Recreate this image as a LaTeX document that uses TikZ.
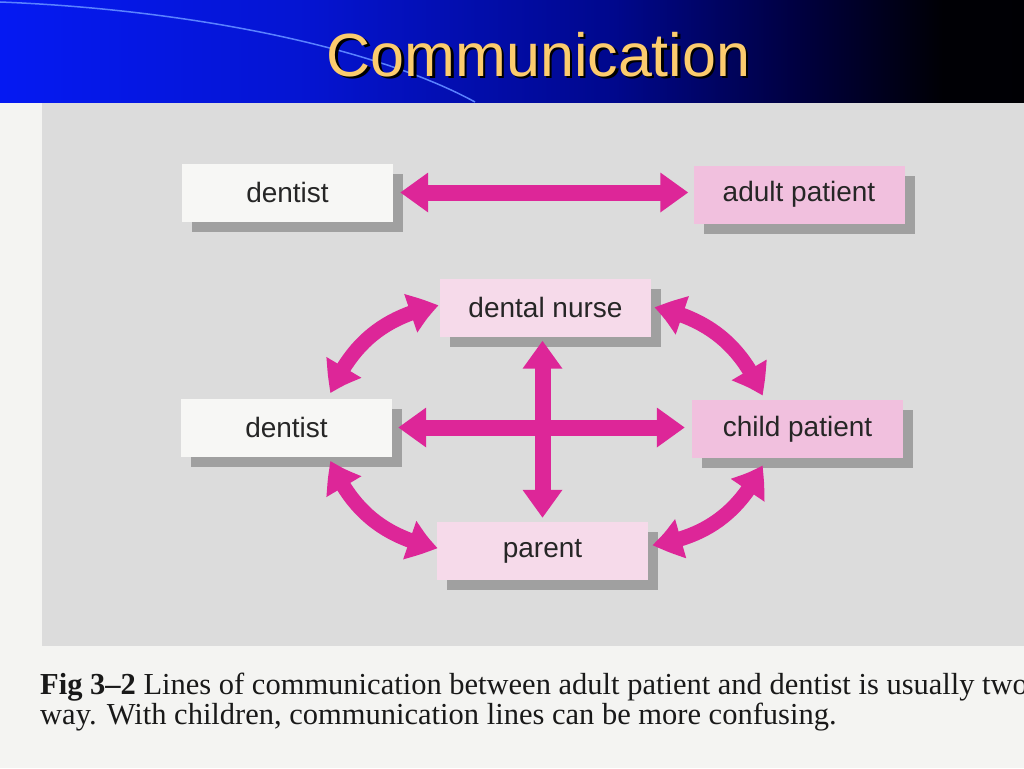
\documentclass[tikz,border=0pt]{standalone}
\usepackage{fontspec}
\setmainfont{Liberation Sans}
\newfontfamily\capfont{Liberation Serif}
\usetikzlibrary{arrows.meta,bending,shadows}
\definecolor{mag}{RGB}{221,38,152}
\definecolor{panel}{RGB}{220,220,220}
\definecolor{page}{RGB}{244,244,242}
\definecolor{boxwhite}{RGB}{247,247,245}
\definecolor{pinkA}{RGB}{241,192,222}
\definecolor{pinkB}{RGB}{246,218,234}
\definecolor{shadowgray}{RGB}{160,160,160}
\definecolor{titleyellow}{RGB}{252,204,110}
\definecolor{arcblue}{RGB}{90,130,255}
\pgfdeclarehorizontalshading{banner}{100bp}{rgb(0bp)=(0.02,0.1,0.95); rgb(25bp)=(0.02,0.1,0.95); rgb(40bp)=(0.02,0.08,0.82); rgb(55bp)=(0,0.03,0.55); rgb(64bp)=(0,0,0.25); rgb(71bp)=(0,0,0.02); rgb(100bp)=(0,0,0)}
\begin{document}
\begin{tikzpicture}[x=1pt,y=1pt,
  box/.style={minimum width=211pt, minimum height=58pt, inner sep=0pt,
    font=\fontsize{28}{32}\selectfont, text=black!85,
    drop shadow={shadow xshift=10pt, shadow yshift=-10pt, fill=shadowgray, opacity=1}},
  whitebox/.style={box, fill=boxwhite},
  pinkbox/.style={box, fill=pinkA},
  lightbox/.style={box, fill=pinkB},
  dbl/.style={draw=mag, line width=16pt, {Triangle[length=28pt,width=38pt]}-{Triangle[length=28pt,width=38pt]}},
  curv/.style={draw=mag, line width=15pt, {Triangle[length=30pt,width=38pt,bend]}-{Triangle[length=30pt,width=38pt,bend]}},
  titlefont/.style={font=\fontsize{61}{70}\selectfont}
]
\useasboundingbox (0,0) rectangle (1024,-768);
\clip (0,0) rectangle (1024,-768);
% backgrounds
\fill[page] (0,0) rectangle (1024,-768);
\fill[panel] (42,-103) rectangle (1024,-646);
\shade[shading=banner] (0,0) rectangle (1024,-102);
\draw[arcblue, line width=1.5pt] (0,-2) .. controls (200,-10) and (380,-50) .. (475,-102);
% title
\node[titlefont, text=black, anchor=base] (titleshadow) at (541,-78.5) {Communication};
\node[titlefont, text=titleyellow, anchor=base] (title) at (538.5,-76) {Communication};
% boxes
\node[whitebox] (d1) at (287.5,-192.5) {dentist};
\node[pinkbox] (ap) at (799,-194.5) {adult patient};
\node[lightbox] (dn) at (545.5,-307.5) {dental nurse};
\node[whitebox] (d2) at (286.5,-427.5) {dentist};
\node[pinkbox] (cp) at (797.5,-429) {child patient};
\node[lightbox] (pa) at (542.5,-551) {parent};
% straight connectors
\draw[dbl] ([xshift=7pt]d1.east) -- ([xshift=-5pt]ap.west |- d1.east);
\draw[dbl] ([xshift=6pt]d2.east) -- ([xshift=-7pt]cp.west |- d2.east);
\draw[dbl] ([yshift=-4pt]pa.north |- dn.south) -- ([yshift=4pt]pa.north);
% curved connectors
\draw[curv] ([xshift=-1pt,yshift=2pt]dn.west) to[bend right=28] ([xshift=44pt,yshift=5pt]d2.north);
\draw[curv] ([xshift=3pt]dn.east) to[bend left=28] ([xshift=-35pt,yshift=4pt]cp.north);
\draw[curv] ([xshift=44pt,yshift=-4pt]d2.south) to[bend right=28] ([xshift=1pt,yshift=3pt]pa.west);
\draw[curv] ([xshift=-35pt,yshift=-7pt]cp.south) to[bend left=28] ([xshift=4pt,yshift=6pt]pa.east);
% caption
\node[anchor=base west, align=left, inner sep=0pt, text=black!90,
  font=\capfont\fontsize{30.5}{27}\selectfont] (cap) at (40,-724)
  {\textbf{Fig 3–2} Lines of communication between adult patient and dentist is usually two-\\way. With children, communication lines can be more confusing.};
\end{tikzpicture}
\end{document}
